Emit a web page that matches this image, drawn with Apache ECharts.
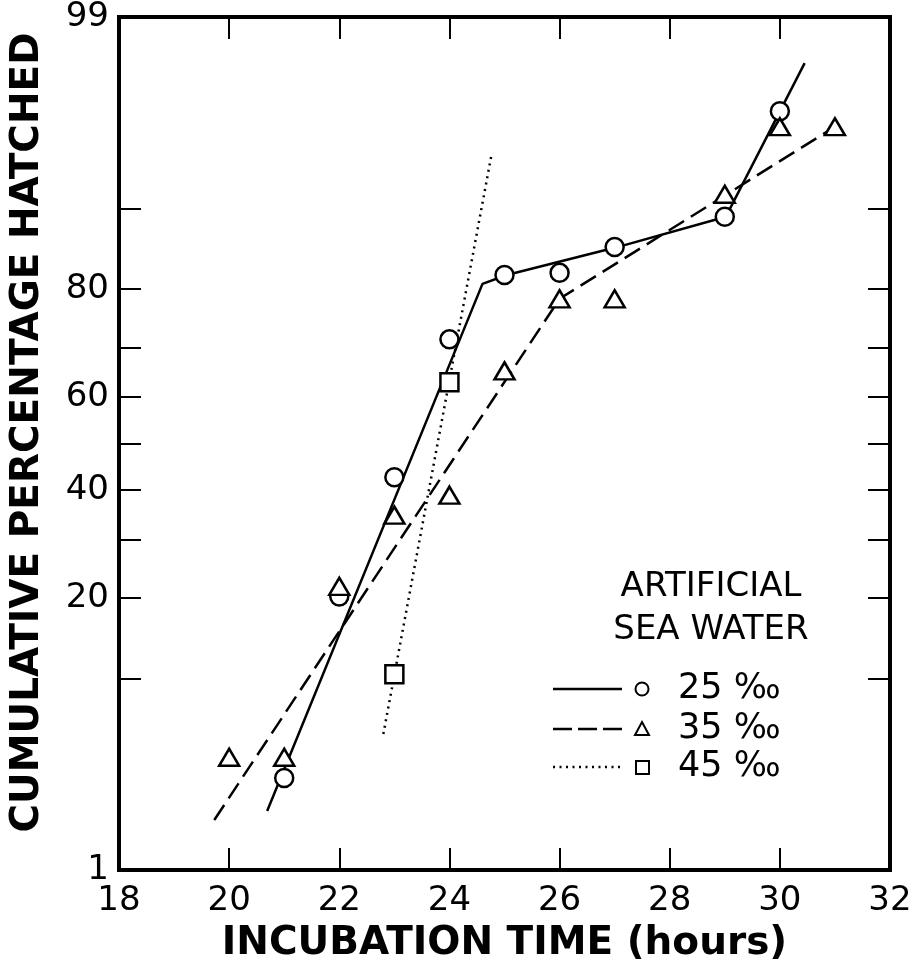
<!DOCTYPE html>
<html>
<head>
<meta charset="utf-8">
<script src="https://cdn.jsdelivr.net/npm/echarts@6/dist/echarts.min.js"></script>
<style>html,body{margin:0;padding:0;background:#fff}#chart{width:919px;height:968px}</style>
</head>
<body>
<div id="chart"></div>
<script>
// ---- data ----
var xTicks = [18, 20, 22, 24, 26, 28, 30, 32];
var yTickPercents = [1, 10, 20, 30, 40, 50, 60, 70, 80, 90, 99];
var yLabelPercents = [1, 20, 40, 60, 80, 99];

var hours25 = [21, 22, 23, 24, 25, 26, 27, 29, 30];
var pct25   = [3.4, 20.2, 42.7, 71.5, 82.1, 82.4, 85.8, 89.2, 96.5];
var hours35 = [20, 21, 22, 23, 24, 25, 26, 27, 29, 30, 31];
var pct35   = [4.35, 4.35, 21.8, 34.8, 38.9, 65.4, 78.5, 78.5, 91.3, 95.8, 95.8];
var hours45 = [23, 24];
var pct45   = [10.4, 63.1];

var fitHours25 = [20.69, 24.6, 25.04, 27.05, 29.02, 30.45];
var fitPct25   = [2.25, 80.8, 82.1, 85.8, 89.2, 98.1];
var fitHours35 = [19.73, 26.0, 31.0];
var fitPct35   = [2.0, 78.5, 95.8];
var fitHours45 = [22.8, 24.77];
var fitPct45   = [5.65, 94.35];

var legendTitle = ['ARTIFICIAL', 'SEA WATER'];
var legendLabels = ['25 \u2030', '35 \u2030', '45 \u2030'];

// ---- probability (probit) scale ----
function probit(p) {
  var a=[-3.969683028665376e+01,2.209460984245205e+02,-2.759285104469687e+02,1.383577518672690e+02,-3.066479806614716e+01,2.506628277459239e+00];
  var b=[-5.447609879822406e+01,1.615858368580409e+02,-1.556989798598866e+02,6.680131188771972e+01,-1.328068155288572e+01];
  var c=[-7.784894002430293e-03,-3.223964580411365e-01,-2.400758277161838e+00,-2.549732539343734e+00,4.374664141464968e+00,2.938163982698783e+00];
  var d=[7.784695709041462e-03,3.224671290700398e-01,2.445134137142996e+00,3.754408661907416e+00];
  var pl=0.02425, ph=1-pl, q, r;
  if (p < pl) { q=Math.sqrt(-2*Math.log(p)); return (((((c[0]*q+c[1])*q+c[2])*q+c[3])*q+c[4])*q+c[5])/((((d[0]*q+d[1])*q+d[2])*q+d[3])*q+1); }
  if (p <= ph) { q=p-0.5; r=q*q; return (((((a[0]*r+a[1])*r+a[2])*r+a[3])*r+a[4])*r+a[5])*q/(((((b[0]*r+b[1])*r+b[2])*r+b[3])*r+b[4])*r+1); }
  q=Math.sqrt(-2*Math.log(1-p)); return -(((((c[0]*q+c[1])*q+c[2])*q+c[3])*q+c[4])*q+c[5])/((((d[0]*q+d[1])*q+d[2])*q+d[3])*q+1);
}
function zOf(pct) { return probit(pct / 100); }
function pairs(xs, ps) { return xs.map(function (x, i) { return [x, zOf(ps[i])]; }); }

var yMin = zOf(1), yMax = zOf(99);
var yTickVals = yTickPercents.map(zOf);
var yLabelVals = yLabelPercents.map(zOf);
function yLabelFmt(v) {
  var best = 0, bd = 1e9;
  for (var i = 0; i < yLabelVals.length; i++) { var dd = Math.abs(yLabelVals[i] - v); if (dd < bd) { bd = dd; best = i; } }
  return String(yLabelPercents[best]);
}

var FONT = 'DejaVu Sans';
var tickStyle = { show: true, inside: true, length: 22, lineStyle: { color: '#000', width: 2 } };
var noLine = { show: false, onZero: false };

var chart = echarts.init(document.getElementById('chart'), null, { renderer: 'canvas' });

var markerStyle = { color: '#fff', borderColor: '#000', borderWidth: 2.5, opacity: 1 };

var option = {
  backgroundColor: '#fff',
  animation: false,
  grid: { left: 114, right: 29, top: 17, bottom: 95, show: true, borderColor: '#000', borderWidth: 4, backgroundColor: 'transparent' },
  xAxis: [
    {
      type: 'value', position: 'bottom', min: 18, max: 32, interval: 2,
      axisLine: noLine, splitLine: { show: false },
      axisTick: tickStyle,
      axisLabel: { show: true, color: '#000', fontFamily: FONT, fontSize: 34, margin: 14 },
      name: 'INCUBATION TIME (hours)', nameLocation: 'middle', nameGap: 54,
      nameTextStyle: { color: '#000', fontFamily: FONT, fontSize: 39, fontWeight: 'bold' }
    },
    {
      type: 'value', position: 'top', min: 18, max: 32, interval: 2,
      axisLine: noLine, splitLine: { show: false },
      axisTick: tickStyle, axisLabel: { show: false }
    }
  ],
  yAxis: [
    {
      type: 'value', position: 'left', min: yMin, max: yMax,
      axisLine: noLine, splitLine: { show: false },
      axisTick: Object.assign({}, tickStyle, { customValues: yTickVals }),
      axisLabel: { show: true, customValues: yLabelVals, formatter: yLabelFmt, color: '#000', fontFamily: FONT, fontSize: 34, margin: 10 },
      name: 'CUMULATIVE PERCENTAGE HATCHED', nameLocation: 'middle', nameGap: 72, nameRotate: 90,
      nameTextStyle: { color: '#000', fontFamily: FONT, fontSize: 39, fontWeight: 'bold', padding: [0, 0, 0, 22] }
    },
    {
      type: 'value', position: 'right', min: yMin, max: yMax,
      axisLine: noLine, splitLine: { show: false },
      axisTick: Object.assign({}, tickStyle, { customValues: yTickVals }),
      axisLabel: { show: false }
    }
  ],
  series: [
    { type: 'line', name: 'fit25', data: pairs(fitHours25, fitPct25), symbol: 'none', z: 2,
      lineStyle: { color: '#000', width: 2.5, type: 'solid' } },
    { type: 'line', name: 'fit35', data: pairs(fitHours35, fitPct35), symbol: 'none', z: 2,
      lineStyle: { color: '#000', width: 2.5, type: [18, 8] } },
    { type: 'line', name: 'fit45', data: pairs(fitHours45, fitPct45), symbol: 'none', z: 2,
      lineStyle: { color: '#000', width: 2.5, type: [2, 4.5] } },
    { type: 'scatter', name: '25 \u2030', data: pairs(hours25, pct25), symbol: 'circle', symbolSize: 18, z: 5, itemStyle: markerStyle },
    { type: 'scatter', name: '35 \u2030', data: pairs(hours35, pct35), symbol: 'triangle', symbolSize: [20, 17], z: 5, itemStyle: markerStyle },
    { type: 'scatter', name: '45 \u2030', data: pairs(hours45, pct45), symbol: 'rect', symbolSize: 18, z: 5, itemStyle: markerStyle }
  ],
  graphic: [
    { type: 'text', position: [711, 587], style: { text: legendTitle[0], align: 'center', verticalAlign: 'middle', fill: '#000', font: '34px "DejaVu Sans"' }, silent: true },
    { type: 'text', position: [711, 630], style: { text: legendTitle[1], align: 'center', verticalAlign: 'middle', fill: '#000', font: '34px "DejaVu Sans"' }, silent: true },
    // legend row 1
    { type: 'line', shape: { x1: 553, y1: 689, x2: 622, y2: 689 }, style: { stroke: '#000', lineWidth: 2.5 } },
    { type: 'circle', shape: { cx: 642, cy: 689, r: 6.5 }, style: { fill: '#fff', stroke: '#000', lineWidth: 2 } },
    { type: 'text', position: [678, 689], style: { text: legendLabels[0], align: 'left', verticalAlign: 'middle', fill: '#000', font: '35px "DejaVu Sans"' } },
    // legend row 2
    { type: 'line', shape: { x1: 553, y1: 729, x2: 622, y2: 729 }, style: { stroke: '#000', lineWidth: 2.5, lineDash: [19, 6] } },
    { type: 'polygon', shape: { points: [[642, 722], [649, 735], [635, 735]] }, style: { fill: '#fff', stroke: '#000', lineWidth: 2 } },
    { type: 'text', position: [678, 729], style: { text: legendLabels[1], align: 'left', verticalAlign: 'middle', fill: '#000', font: '35px "DejaVu Sans"' } },
    // legend row 3
    { type: 'line', shape: { x1: 553, y1: 767, x2: 624, y2: 767 }, style: { stroke: '#000', lineWidth: 2.5, lineDash: [2, 4.5] } },
    { type: 'rect', shape: { x: 636, y: 761, width: 13, height: 13 }, style: { fill: '#fff', stroke: '#000', lineWidth: 2 } },
    { type: 'text', position: [678, 767], style: { text: legendLabels[2], align: 'left', verticalAlign: 'middle', fill: '#000', font: '35px "DejaVu Sans"' } }
  ]
};
chart.setOption(option);
</script>
</body>
</html>
